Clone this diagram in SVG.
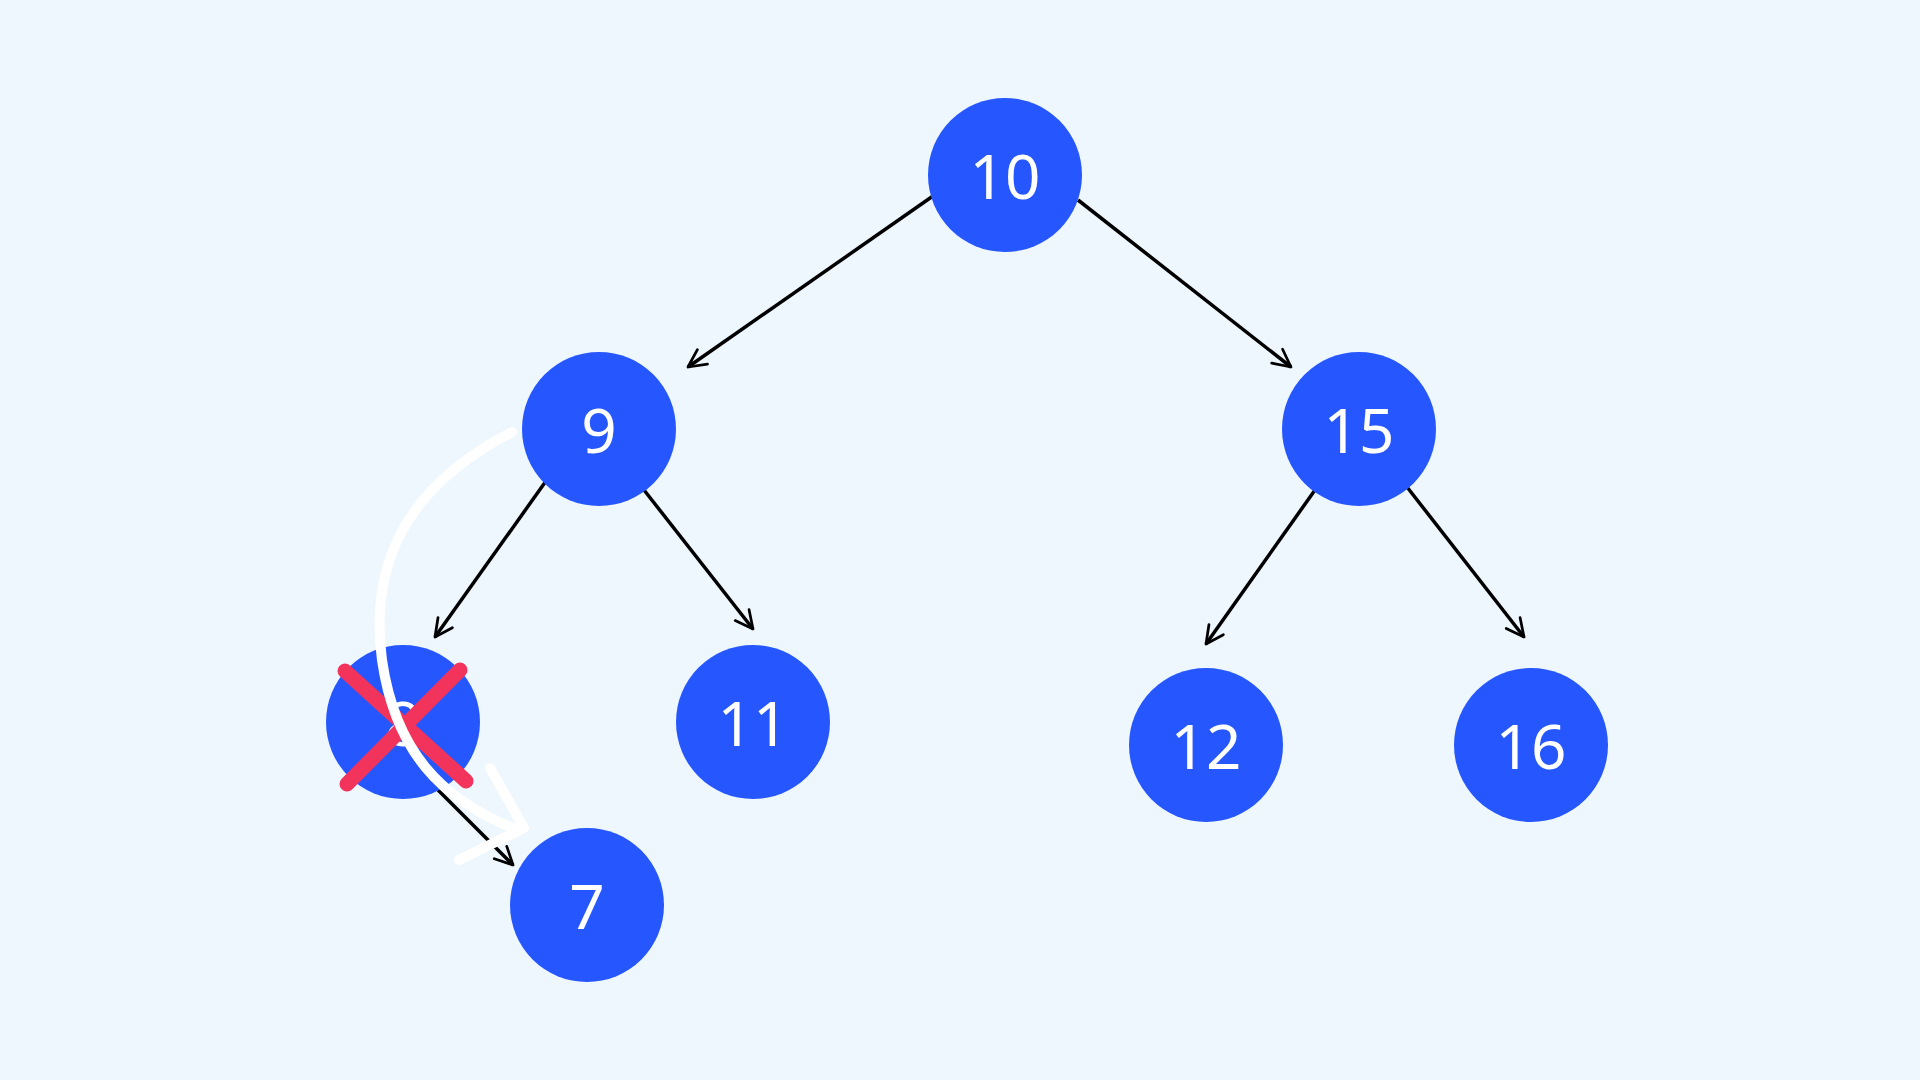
<svg xmlns="http://www.w3.org/2000/svg" width="1920" height="1080" viewBox="0 0 1920 1080">
<defs>
<marker id="ah" viewBox="0 0 20 20" refX="18" refY="10" markerWidth="22" markerHeight="22" markerUnits="userSpaceOnUse" orient="auto">
<path d="M2,2 L18,10 L2,18" fill="none" stroke="#000" stroke-width="2.5" stroke-linecap="round" stroke-linejoin="round"/>
</marker>
</defs>
<style>
.n{fill:#2657fe}
.t{fill:#fff;font-family:"Noto Sans",sans-serif;font-size:62px;text-anchor:middle;dominant-baseline:central}
.e{stroke:#000;stroke-width:3.5;fill:none;marker-end:url(#ah)}
</style>
<rect width="1920" height="1080" fill="#eef7fe"/>
<g id="connectors">
<line class="e" x1="933" y1="196" x2="688" y2="367"/>
<line class="e" x1="1078" y1="200" x2="1291" y2="367"/>
<line class="e" x1="546" y1="481" x2="435" y2="637"/>
<line class="e" x1="644" y1="490" x2="753" y2="629"/>
<line class="e" x1="1315" y1="490" x2="1206" y2="644"/>
<line class="e" x1="1407" y1="487" x2="1524" y2="637"/>
<line class="e" x1="438" y1="790" x2="513" y2="865"/>
</g>
<g id="n10"><circle class="n" cx="1005" cy="175" r="77"/><text class="t" x="1005" y="175">10</text></g>
<g id="n9"><circle class="n" cx="599" cy="429" r="77"/><text class="t" x="599" y="429">9</text></g>
<g id="n15"><circle class="n" cx="1359" cy="429" r="77"/><text class="t" x="1359" y="429">15</text></g>
<g id="n8"><circle class="n" cx="403" cy="722" r="77"/><text class="t" x="403" y="722">8</text></g>
<g id="n11"><circle class="n" cx="753" cy="722" r="77"/><text class="t" x="753" y="722">11</text></g>
<g id="n12"><circle class="n" cx="1206" cy="745" r="77"/><text class="t" x="1206" y="745">12</text></g>
<g id="n16"><circle class="n" cx="1531" cy="745" r="77"/><text class="t" x="1531" y="745">16</text></g>
<g id="n7"><circle class="n" cx="587" cy="905" r="77"/><text class="t" x="587" y="905">7</text></g>
<g id="cross" stroke="#f2335c" stroke-width="15" stroke-linecap="round">
<line x1="345" y1="671" x2="466" y2="781"/>
<line x1="460" y1="670" x2="347" y2="784"/>
</g>
<g id="curve" stroke="#fff" stroke-width="10" fill="none" stroke-linecap="round" stroke-linejoin="round">
<path d="M512,432 C400,490 370,570 382,660 C395,750 440,800 518,830"/>
<path d="M490,768 L524,828 L459,860"/>
</g>
</svg>
